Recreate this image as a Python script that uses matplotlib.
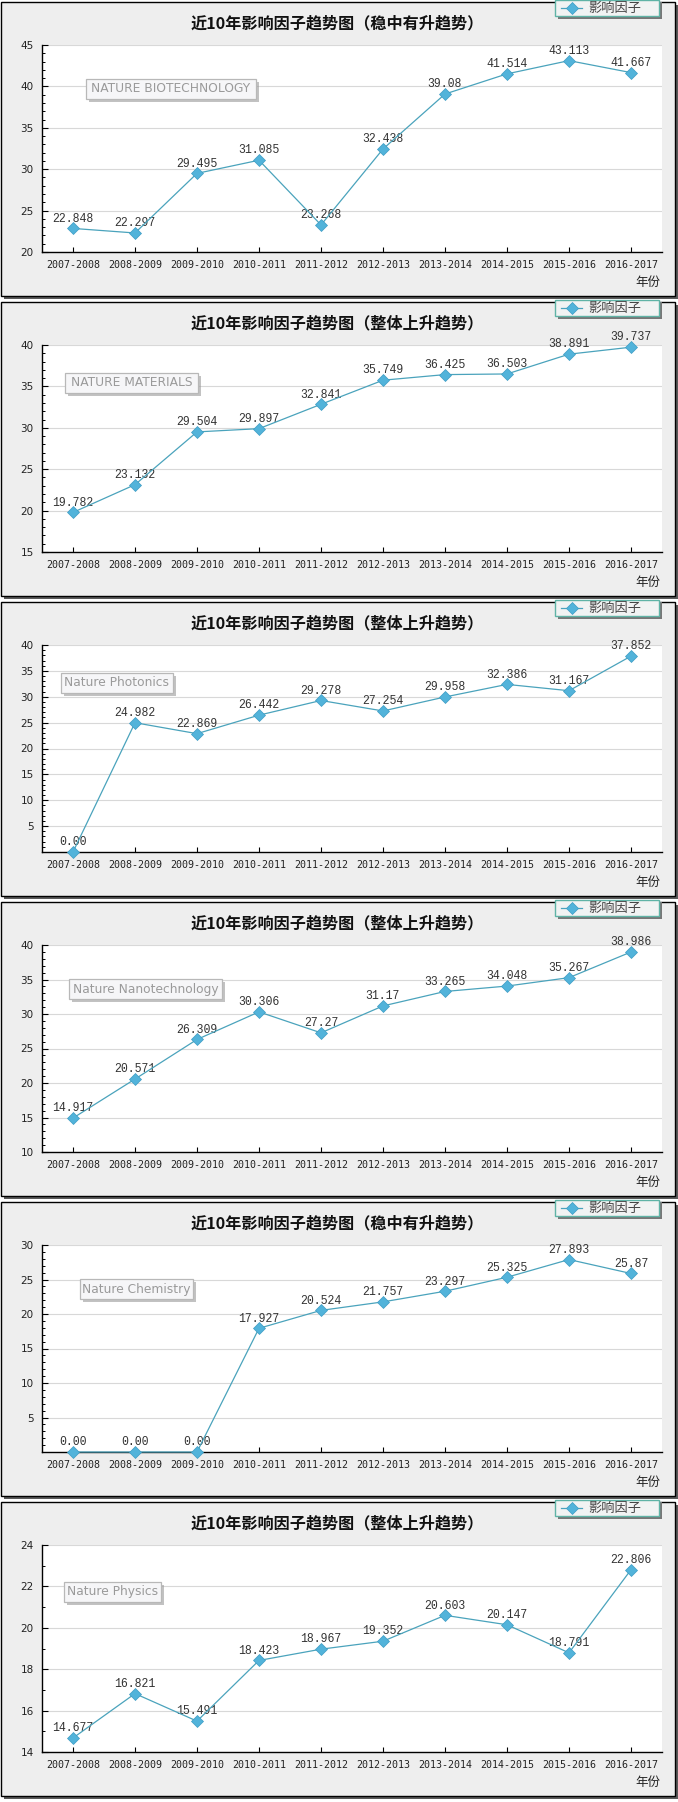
import matplotlib
matplotlib.use("Agg")
import matplotlib.pyplot as plt
from matplotlib.patches import Rectangle
from matplotlib.lines import Line2D
from matplotlib.ticker import MultipleLocator, FixedLocator

plt.rcParams['font.family'] = ['Noto Sans CJK SC', 'DejaVu Sans']

# ---------------- data ----------------
years = ["2007-2008", "2008-2009", "2009-2010", "2010-2011", "2011-2012",
         "2012-2013", "2013-2014", "2014-2015", "2015-2016", "2016-2017"]

titles = [
    "近10年影响因子趋势图（稳中有升趋势）",
    "近10年影响因子趋势图（整体上升趋势）",
    "近10年影响因子趋势图（整体上升趋势）",
    "近10年影响因子趋势图（整体上升趋势）",
    "近10年影响因子趋势图（稳中有升趋势）",
    "近10年影响因子趋势图（整体上升趋势）",
]
journals = ["NATURE BIOTECHNOLOGY", "NATURE MATERIALS", "Nature Photonics",
            "Nature Nanotechnology", "Nature Chemistry", "Nature Physics"]

if_biotech = [22.848, 22.297, 29.495, 31.085, 23.268, 32.438, 39.08, 41.514, 43.113, 41.667]
if_materials = [19.782, 23.132, 29.504, 29.897, 32.841, 35.749, 36.425, 36.503, 38.891, 39.737]
if_photonics = [0.00, 24.982, 22.869, 26.442, 29.278, 27.254, 29.958, 32.386, 31.167, 37.852]
if_nanotech = [14.917, 20.571, 26.309, 30.306, 27.27, 31.17, 33.265, 34.048, 35.267, 38.986]
if_chemistry = [0.00, 0.00, 0.00, 17.927, 20.524, 21.757, 23.297, 25.325, 27.893, 25.87]
if_physics = [14.677, 16.821, 15.491, 18.423, 18.967, 19.352, 20.603, 20.147, 18.791, 22.806]
series = [if_biotech, if_materials, if_photonics, if_nanotech, if_chemistry, if_physics]

y_axes = [(20, 45, 5), (15, 40, 5), (0, 40, 5), (10, 40, 5), (0, 30, 5), (14, 24, 2)]

legend_label = "影响因子"
x_axis_label = "年份"

# ---------------- layout (pixels) ----------------
W, H = 678, 1802
DPI = 100
fig = plt.figure(figsize=(W / DPI, H / DPI), dpi=DPI)
fig.patch.set_facecolor("white")

def fx(x):
    return x / W

def fy(y):
    return 1 - y / H

def prect(x0, y0, x1, y1, **kw):
    """rectangle from pixel coords (top-left origin)"""
    r = Rectangle((fx(x0), fy(y1)), (x1 - x0) / W, (y1 - y0) / H,
                  transform=fig.transFigure, **kw)
    fig.add_artist(r)
    return r

panel_tops = [2, 302, 602, 902, 1202, 1502]
wm_boxes = [(86, 77, 256, 97), (65, 71, 198, 91), (61, 71, 173, 91),
            (69, 77, 222, 97), (80, 77, 193, 97), (64, 80, 161, 100)]

LINE_C = "#4AA3BC"
MARK_C = "#52B3DA"
MARK_E = "#3D9CC4"
MS = 6.0

for k in range(6):
    top = panel_tops[k]
    # panel frame with shadow
    prect(4, top + 3, 678, top + 297, facecolor="#5a5a5a", edgecolor="none", zorder=0)
    prect(1, top, 675, top + 294, facecolor="#EEEEEE", edgecolor="black",
          linewidth=1.0, zorder=0.5)

    # axes
    ax = fig.add_axes([fx(42), fy(top + 250), 620 / W, 207 / H])
    ax.set_facecolor("white")
    ax.set_zorder(1)
    ymin, ymax, ystep = y_axes[k]
    vals = series[k]
    xs = list(range(len(years)))
    ax.plot(xs, vals, color=LINE_C, linewidth=0.9, zorder=3,
            marker="D", markersize=MS, markerfacecolor=MARK_C,
            markeredgecolor=MARK_E, markeredgewidth=0.5, clip_on=False)
    for i, v in enumerate(vals):
        lab = "0.00" if v == 0 else f"{v:g}"
        ax.annotate(lab, (i, v), xytext=(0, 7), textcoords="offset points",
                    ha="center", va="center", fontsize=8.3, color="#333333",
                    family="Liberation Mono", zorder=2)
    ax.set_xlim(-0.5, len(years) - 0.5)
    ax.set_ylim(ymin, ymax)
    ax.set_xticks(xs)
    ax.set_xticklabels(years, family="DejaVu Sans Mono", fontsize=7.2, color="#222222")
    start = ymin if ymin != 0 else ystep
    ax.yaxis.set_major_locator(FixedLocator(list(range(start, ymax + 1, ystep))))
    ax.yaxis.set_minor_locator(MultipleLocator(1))
    ax.tick_params(axis="y", which="major", direction="in", length=4.5, width=0.8,
                   pad=6, labelsize=7.5, labelcolor="#222222")
    for t in ax.get_yticklabels():
        t.set_family("DejaVu Sans")
    ax.tick_params(axis="y", which="minor", direction="in", length=2.2, width=0.7)
    ax.tick_params(axis="x", which="major", direction="in", length=3.8, width=0.8, pad=6)
    ax.grid(axis="y", which="major", color="#D8D8D8", linewidth=0.8)
    ax.set_axisbelow(True)
    for s in ["top", "right"]:
        ax.spines[s].set_visible(False)
    for s in ["left", "bottom"]:
        ax.spines[s].set_color("black")
        ax.spines[s].set_linewidth(1.0)

    # title
    fig.text(fx(337), fy(top + 21), titles[k], ha="center", va="center",
             fontsize=11.6, fontweight="bold", color="#111111")
    # x label
    fig.text(fx(660), fy(top + 280), x_axis_label, ha="right", va="center",
             fontsize=9, color="#222222")

    # legend box at top right
    prect(558, top + 0, 662, top + 17, facecolor="#777777", edgecolor="none", zorder=4)
    prect(555, top - 2, 659, top + 14, facecolor="#F1F3F3", edgecolor="#5FB3A6",
          linewidth=1.0, zorder=5)
    fig.add_artist(Line2D([fx(561), fx(582)], [fy(top + 6), fy(top + 6)],
                          transform=fig.transFigure, color=LINE_C, linewidth=0.9,
                          marker=None, zorder=6))
    fig.add_artist(Line2D([fx(571.5)], [fy(top + 6)], transform=fig.transFigure,
                          marker="D", markersize=MS, markerfacecolor=MARK_C,
                          markeredgecolor=MARK_E, markeredgewidth=0.5,
                          linestyle="none", zorder=7))
    fig.text(fx(588), fy(top + 6), legend_label, ha="left", va="center",
             fontsize=9.5, color="#444444", zorder=7)

    # journal watermark box
    x0, y0, x1, y1 = wm_boxes[k]
    prect(x0 + 3, top + y0 + 3, x1 + 3, top + y1 + 3, facecolor="#9a9a9a",
          edgecolor="none", alpha=0.6, zorder=5)
    prect(x0, top + y0, x1, top + y1, facecolor="#F6F6F8", edgecolor="#B8B8B8",
          linewidth=0.9, zorder=6)
    fig.text(fx((x0 + x1) / 2), fy(top + (y0 + y1) / 2), journals[k],
             ha="center", va="center", fontsize=8.8, color="#9A9A9A",
             family="DejaVu Sans", zorder=7)

fig.savefig("out.png", dpi=DPI)
